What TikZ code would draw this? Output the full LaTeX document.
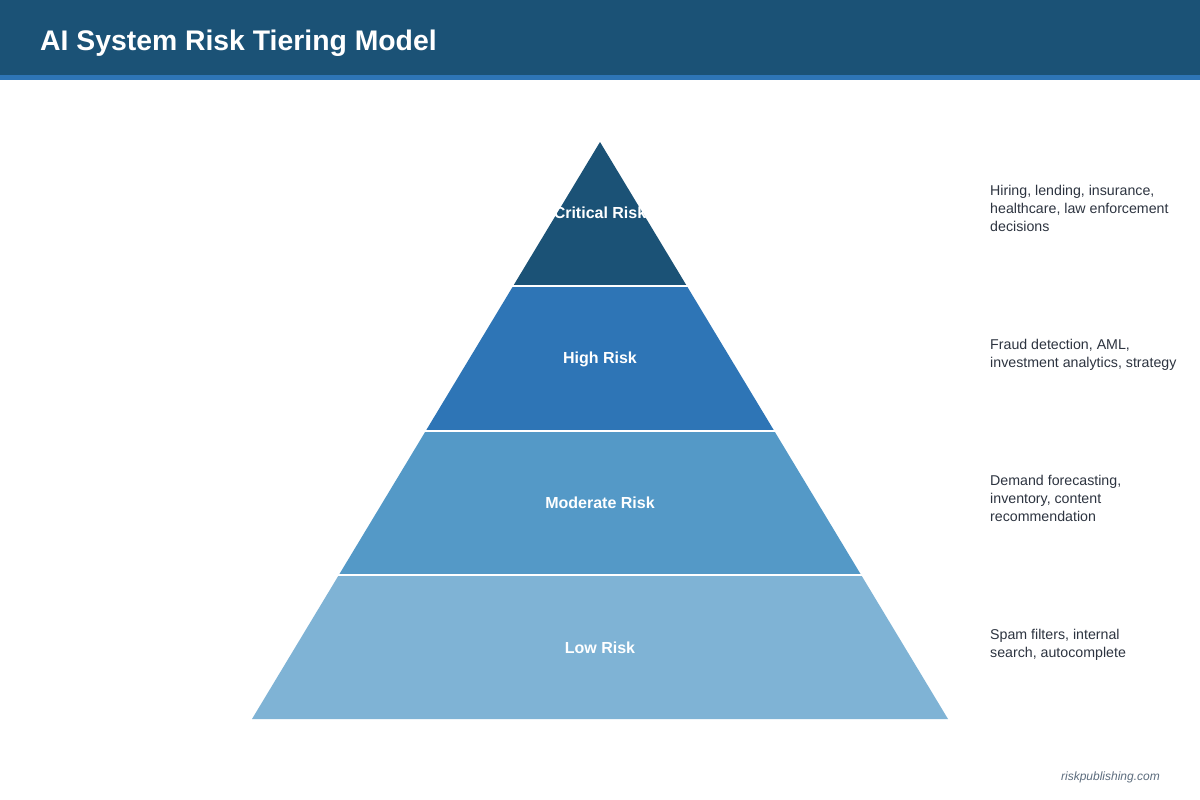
\documentclass[tikz,border=0pt]{standalone}
\usepackage{fontspec}
\setmainfont{Liberation Sans}
\definecolor{hdr}{HTML}{1B5276}
\definecolor{acc}{HTML}{2E75B6}
\definecolor{tA}{HTML}{1B5276}
\definecolor{tB}{HTML}{2E75B6}
\definecolor{tC}{HTML}{5499C7}
\definecolor{tD}{HTML}{7FB3D5}
\definecolor{desc}{HTML}{2D3440}
\definecolor{foot}{HTML}{5D6D7E}
\tikzset{
  tierlabel/.style={anchor=base, inner sep=0pt, text=white, font=\fontsize{16}{19}\selectfont\bfseries},
  desctext/.style={anchor=base west, inner sep=0pt, text=desc, font=\fontsize{14.2}{18}\selectfont},
  sep/.style={draw=white, line width=2pt}
}
\begin{document}
\begin{tikzpicture}[x=1pt,y=-1pt]
\useasboundingbox (0,0) rectangle (1200,800);
\fill[white] (0,0) rectangle (1200,800);
% header
\fill[hdr] (0,0) rectangle (1200,75);
\fill[acc] (0,75) rectangle (1200,80);
\node[anchor=base west, inner sep=0pt, text=white, font=\fontsize{28.35}{34}\selectfont\bfseries] (title) at (40,51) {AI System Risk Tiering Model};
% pyramid tiers
\coordinate (apex) at (600,142);
\fill[tA] (apex) -- (687,286.25) -- (513,286.25) -- cycle;
\fill[tB] (513,286.25) -- (687,286.25) -- (774,430.5) -- (426,430.5) -- cycle;
\fill[tC] (426,430.5) -- (774,430.5) -- (861,574.75) -- (339,574.75) -- cycle;
\fill[tD] (339,574.75) -- (861,574.75) -- (948,719) -- (252,719) -- cycle;
\draw[sep] (500,286.25) -- (700,286.25);
\draw[sep] (410,430.5) -- (790,430.5);
\draw[sep] (320,574.75) -- (880,574.75);
% labels
\node[tierlabel] (lA) at (600,218) {Critical Risk};
\node[tierlabel] (lB) at (600,363) {High Risk};
\node[tierlabel] (lC) at (600,508) {Moderate Risk};
\node[tierlabel] (lD) at (600,653) {Low Risk};
% descriptions
\node[desctext] (dA1) at (990,195) {Hiring, lending, insurance,};
\node[desctext] (dA2) at (990,213) {healthcare, law enforcement};
\node[desctext] (dA3) at (990,231) {decisions};
\node[desctext] (dB1) at (990,349) {Fraud detection, AML,};
\node[desctext] (dB2) at (990,367) {investment analytics, strategy};
\node[desctext] (dC1) at (990,485) {Demand forecasting,};
\node[desctext] (dC2) at (990,503) {inventory, content};
\node[desctext] (dC3) at (990,521) {recommendation};
\node[desctext] (dD1) at (990,639) {Spam filters, internal};
\node[desctext] (dD2) at (990,657) {search, autocomplete};
% footer
\node[anchor=base east, inner sep=0pt, text=foot, font=\fontsize{12}{14}\selectfont\itshape] (foot) at (1160,780) {riskpublishing.com};
\end{tikzpicture}
\end{document}
